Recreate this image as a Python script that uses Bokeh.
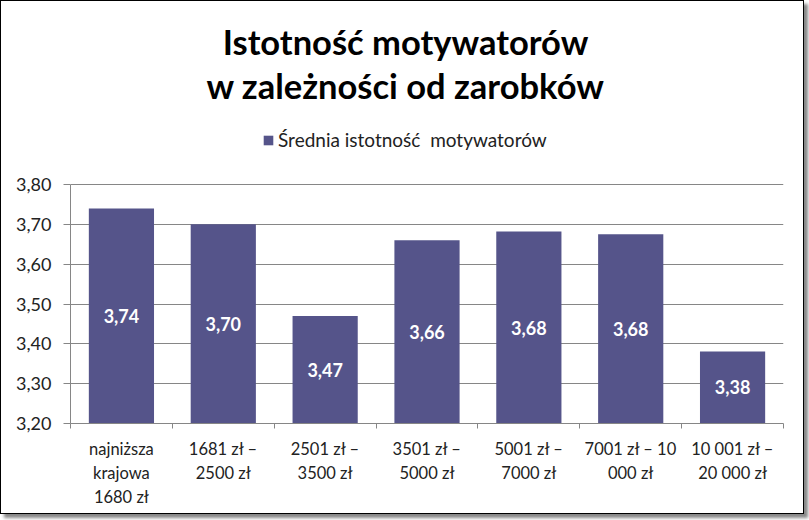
from bokeh.plotting import figure
from bokeh.models import (FixedTicker, CustomJSTickFormatter, Label, Legend, LegendItem,
                          ColumnDataSource, Range1d)
from bokeh.core.properties import value
from bokeh.embed import file_html
from bokeh.resources import INLINE

categories = ["najniższa\nkrajowa\n1680 zł", "1681 zł –\n2500 zł", "2501 zł –\n3500 zł",
              "3501 zł –\n5000 zł", "5001 zł –\n7000 zł", "7001 zł – 10\n000 zł",
              "10 001 zł –\n20 000 zł"]
values = [3.74, 3.70, 3.47, 3.66, 3.682, 3.675, 3.381]
value_labels = ["3,74", "3,70", "3,47", "3,66", "3,68", "3,68", "3,38"]
y_ticks = [3.2, 3.3, 3.4, 3.5, 3.6, 3.7, 3.8]
title_lines = ["Istotność motywatorów", "w zależności od zarobków"]
series_name = "Średnia istotność  motywatorów"

FONT = "Lato"
BAR = "#55548A"

xs = [i + 0.5 for i in range(len(categories))]
src = ColumnDataSource(dict(x=xs, top=values, lab=value_labels,
                            mid=[(3.2 + v) / 2 for v in values]))

W, H = 802, 512
FRAME_H = 422          # frame reaches the top of the canvas so titles aren't clipped
AXIS_H = 239           # pixel height of the 3.20..3.80 span
y_top = 3.2 + 0.6 * FRAME_H / AXIS_H

p = figure(width=W, height=H, output_backend="svg", toolbar_location=None,
           x_range=Range1d(0, 7), y_range=Range1d(3.2, y_top),
           frame_width=713, frame_height=FRAME_H,
           min_border_left=69, min_border_right=W - 69 - 713,
           min_border_top=0, min_border_bottom=H - FRAME_H)
p.outline_line_color = None
p.border_fill_color = "white"
p.background_fill_color = "white"

bars = p.vbar(x="x", top="top", bottom=3.2, width=0.64, source=src,
              fill_color=BAR, line_color=None)
p.text(x="x", y="mid", text="lab", source=src, text_color="white",
       text_font=value(FONT), text_font_style="bold", text_font_size="18px",
       text_align="center", text_baseline="middle")

# axes
p.yaxis.ticker = FixedTicker(ticks=y_ticks)
p.yaxis.bounds = (3.2, 3.8)
p.yaxis.formatter = CustomJSTickFormatter(code="return tick.toFixed(2).replace('.', ',');")
p.yaxis.major_label_text_font = FONT
p.yaxis.major_label_text_font_size = "18px"
p.yaxis.major_label_text_color = "#222222"
p.yaxis.major_tick_out = 7
p.yaxis.major_tick_in = 0
p.yaxis.minor_tick_out = 0
p.yaxis.minor_tick_in = 0
p.yaxis.axis_line_color = "#868686"
p.yaxis.major_tick_line_color = "#868686"
p.yaxis.major_label_standoff = 12

p.xaxis.ticker = FixedTicker(ticks=xs, minor_ticks=list(range(0, 8)))
p.xaxis.major_label_overrides = {x: c for x, c in zip(xs, categories)}
p.xaxis.major_label_text_font = FONT
p.xaxis.major_label_text_font_size = "16.5px"
p.xaxis.major_label_text_color = "#222222"
p.xaxis.major_label_text_line_height = 1.2
p.xaxis.major_tick_out = 0
p.xaxis.major_tick_in = 0
p.xaxis.minor_tick_out = 5
p.xaxis.minor_tick_in = 0
p.xaxis.minor_tick_line_color = "#868686"
p.xaxis.axis_line_color = "#868686"
p.xaxis.major_label_standoff = 10

p.xgrid.grid_line_color = None
p.ygrid.grid_line_color = "#868686"
p.ygrid.grid_line_width = 1

# title (screen units relative to frame bottom-left)
for line, yy in zip(title_lines, [382, 338]):
    p.add_layout(Label(x=335, y=yy, x_units="screen", y_units="screen", text=line,
                       text_font=FONT, text_font_style="bold", text_font_size="34.5px",
                       text_align="center", text_baseline="middle", text_color="black"))

legend = Legend(items=[LegendItem(label=series_name, renderers=[bars])],
                location=(192, 272), orientation="horizontal",
                glyph_width=12, glyph_height=12, label_standoff=4,
                label_text_font=FONT, label_text_font_size="19px",
                label_text_color="#222222", padding=0, margin=0, spacing=0,
                border_line_color=None, background_fill_alpha=0)
p.add_layout(legend, "center")

# chart frame with shadow
p.styles = {"border": "1px solid black", "box-shadow": "4px 4px 3px #888"}

open("out.html", "w").write(file_html(p, INLINE))
